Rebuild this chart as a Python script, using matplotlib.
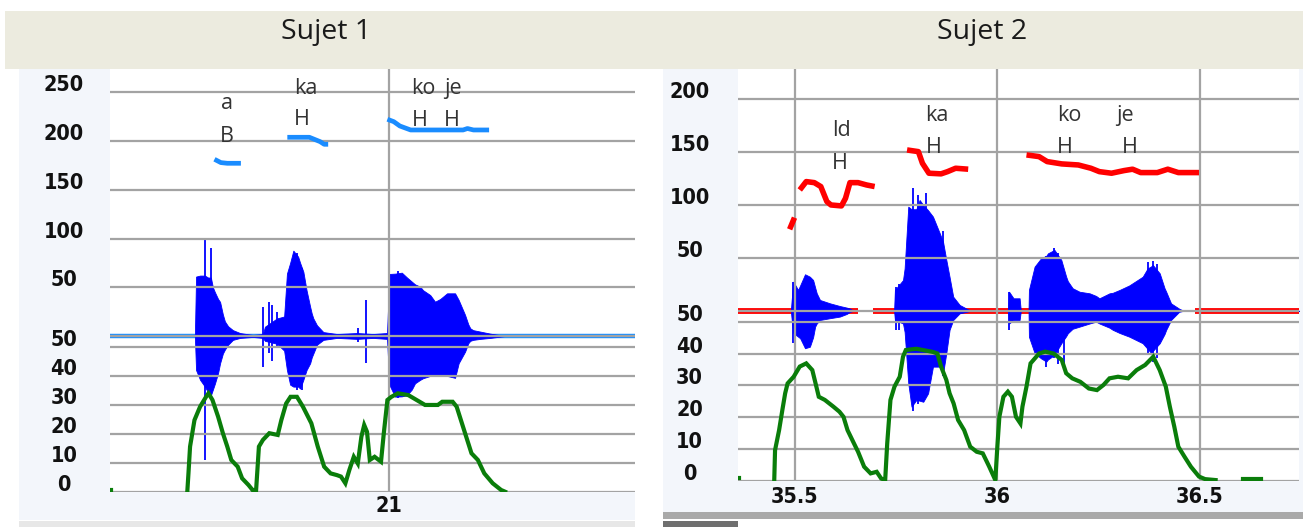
import matplotlib
matplotlib.use("Agg")
import matplotlib.pyplot as plt
from matplotlib.patches import Rectangle
from matplotlib import transforms as mtrans

# ---------------- DATA ----------------
# Sujet 1
S1_PITCH_TICKS = [250, 200, 150, 100, 50]
S1_INT_TICKS = [50, 40, 30, 20, 10, 0]
S1_XTICKS = [21]
S1_XTICK_LABELS = ["21"]

S1_WAVE_T = [20.303, 20.515, 20.518, 20.528, 20.540, 20.548, 20.555, 20.560, 20.565, 20.573,
             20.578, 20.585, 20.590, 20.598, 20.610, 20.628, 20.660, 20.685, 20.690, 20.720,
             20.738, 20.745, 20.753, 20.761, 20.773, 20.778, 20.786, 20.794, 20.803, 20.807,
             20.811, 20.820, 20.836, 20.870, 20.920, 20.960, 20.995, 21.001, 21.015, 21.032,
             21.045, 21.057, 21.065, 21.078, 21.085, 21.103, 21.115, 21.128, 21.145, 21.165,
             21.174, 21.190, 21.198, 21.203, 21.210, 21.228, 21.253, 21.290]
S1_WAVE_TOP = [0, 0, 61, 62, 62, 60, 60, 50, 45, 38,
               35, 22, 15, 10, 6, 3, 1, 2, 9.5, 18,
               20, 64, 75, 87.6, 81.4, 75, 66, 47, 30, 23,
               18, 11, 4, 2, 3, 2, 3, 63.7, 64, 65,
               60, 55.8, 53, 50.6, 47, 42, 35.2, 38, 43.8, 43.8,
               37, 21.6, 12, 7.9, 6, 4.5, 2.4, 0]
S1_WAVE_BOT = [0, 0, -35, -45, -52, -58, -61, -55, -49, -38,
               -28, -18, -14, -9, -4, -2, -1, -2, -5, -8,
               -15, -35, -50, -52, -52, -54, -45, -35, -28, -22,
               -18, -9, -4, -2, -3, -2, -3, -50.3, -62.3, -62,
               -60.6, -55, -48.6, -45, -43.4, -41, -40, -40, -41, -43,
               -28, -16.1, -7.5, -5, -4, -3, -2, 0]
S1_SPIKE_T = [20.540, 20.555, 20.686, 20.699, 20.707, 20.720, 20.770, 20.783, 20.923, 20.943, 21.022]
S1_SPIKE_TOP = [99, 90, 29.5, 35, 32, 25, 85, 70, 8, 37, 67]
S1_SPIKE_BOT = [-127, -20, -31.5, -17.5, -26, -10, -55, -55, -6, -27.4, -64]

S1_F0_A_T = [20.564, 20.580, 20.596, 20.630]
S1_F0_A_HZ = [181.4, 178.0, 177.3, 177.3]
S1_F0_KA_T = [20.746, 20.801, 20.828, 20.838, 20.848]
S1_F0_KA_HZ = [204.0, 204.0, 199.5, 196.8, 196.8]
S1_F0_KOJE_T = [20.996, 21.012, 21.027, 21.054, 21.185, 21.196, 21.211, 21.250]
S1_F0_KOJE_HZ = [222.5, 220.0, 215.6, 211.5, 211.5, 213.0, 211.5, 211.5]

S1_INT_T = [20.496, 20.499, 20.503, 20.514, 20.528, 20.543, 20.549, 20.559, 20.573, 20.585,
            20.596, 20.606, 20.622, 20.633, 20.649, 20.659, 20.668, 20.675, 20.685, 20.701,
            20.722, 20.731, 20.743, 20.754, 20.770, 20.785, 20.806, 20.822, 20.838, 20.854,
            20.870, 20.880, 20.891, 20.901, 20.912, 20.922, 20.931, 20.938, 20.945, 20.952,
            20.964, 20.980, 20.987, 20.996, 21.006, 21.022, 21.048, 21.069, 21.090, 21.122,
            21.133, 21.159, 21.169, 21.190, 21.206, 21.222, 21.238, 21.259, 21.280, 21.290]
S1_INT_DB = [0, 6.5, 15.7, 24.8, 29.4, 32.8, 34.0, 31.7, 26.0, 20.3,
             15.7, 11.1, 8.8, 4.8, 2.5, 0.8, 0.8, 15.7, 18.0, 20.3,
             19.7, 24.8, 30.5, 32.8, 32.8, 29.4, 23.7, 15.7, 8.8, 6.5,
             5.9, 5.4, 3.1, 7.7, 12.2, 9.9, 19.1, 23.1, 20.8, 11.1,
             12.2, 10.5, 20.3, 31.7, 32.8, 34.0, 33.4, 31.7, 30.0, 30.0,
             31.1, 31.1, 29.4, 20.3, 13.4, 11.1, 6.5, 3.1, 0.8, 0.2]
S1_INT_DOT_T = [20.303, 20.305]
S1_INT_DOT_DB = [0.8, 0.8]

S1_SYL = ["a", "ka", "ko", "je"]
S1_SYL_T = [20.596, 20.793, 21.086, 21.159]
S1_SYL_HZ = [238.2, 254.3, 254.3, 254.3]
S1_TONE = ["B", "H", "H", "H"]
S1_TONE_T = [20.596, 20.783, 21.077, 21.156]
S1_TONE_HZ = [205.3, 221.8, 221.0, 221.0]

# Sujet 2
S2_PITCH_TICKS = [200, 150, 100, 50]
S2_INT_TICKS = [50, 40, 30, 20, 10, 0]
S2_XTICKS = [35.5, 36.0, 36.5]
S2_XTICK_LABELS = ["35.5", "36", "36.5"]

S2_WAVE_T = [35.359, 35.490, 35.492, 35.496, 35.508, 35.513, 35.525, 35.537, 35.545, 35.550,
             35.554, 35.562, 35.587, 35.611, 35.628, 35.636, 35.645, 35.745, 35.747, 35.767,
             35.771, 35.780, 35.788, 35.800, 35.808, 35.817, 35.829, 35.841, 35.858, 35.866,
             35.874, 35.882, 35.891, 35.907, 35.924, 35.935, 36.027, 36.029, 36.040, 36.055,
             36.058, 36.077, 36.078, 36.092, 36.108, 36.121, 36.125, 36.141, 36.158, 36.170,
             36.174, 36.186, 36.203, 36.228, 36.244, 36.252, 36.277, 36.285, 36.302, 36.326,
             36.334, 36.359, 36.371, 36.380, 36.384, 36.401, 36.413, 36.417, 36.429, 36.449,
             36.460, 36.745]
S2_WAVE_TOP = [0, 0, 10, 27.5, 19.7, 24, 34.5, 32.2, 29.1, 22,
               16.5, 10.2, 7, 4.5, 3, 2.1, 0, 0, 19.7, 29,
               40, 98.4, 96, 96, 104.7, 100, 95, 89, 73, 65,
               48, 32, 13.3, 5.5, 2, 0, 0, 18, 11.8, 11.8,
               0, 0, 19.7, 41.7, 49.6, 52, 54.3, 57.5, 48, 32.2,
               28, 21.3, 18, 16.5, 14, 11.8, 16.5, 17, 19.7, 24,
               26, 32.2, 40, 42, 43.3, 35.4, 21.3, 18, 7, 2,
               0, 0]
S2_WAVE_BOT = [0, 0, -8, -21, -24.5, -26, -35.4, -34, -25, -15,
               -12, -8.7, -7, -5.5, -3, -1, 0, 0, -8.7, -12,
               -20, -68.5, -90.6, -84.3, -85, -86, -78, -52.8, -52.8, -59,
               -40, -18, -8.7, -2.4, -1, 0, 0, -12, -8.7, -8.7,
               0, 0, -24.5, -40, -45, -48, -46, -41.8, -30.7, -24,
               -21.3, -17, -15, -12, -10.3, -12, -16, -18, -21, -24.5,
               -26, -30.7, -36, -40, -38, -30.7, -22, -18, -8.7, -1,
               0, 0]
S2_SPIKE_T = [35.496, 35.750, 35.757, 35.792, 35.804, 35.825, 35.866, 36.029, 36.121, 36.141,
              36.150, 36.165, 36.371, 36.384, 36.395]
S2_SPIKE_TOP = [27.5, 22, 25, 115.8, 109, 111, 75, 18, 52, 59, 55, 36, 46, 47, 44]
S2_SPIKE_BOT = [-30, -18, -18, -95, -88, -80, -62, -18, -53, -45, -50, -53, -40, -48, -45]
S2_BASE_START = [35.359, 35.692, 36.488]
S2_BASE_END = [35.656, 36.447, 36.745]

S2_F0_0_T = [35.487, 35.499]
S2_F0_0_HZ = [77.0, 88.0]
S2_F0_LD_T = [35.512, 35.528, 35.548, 35.564, 35.579, 35.589, 35.615, 35.625, 35.636, 35.656, 35.677, 35.697]
S2_F0_LD_HZ = [114.2, 122.1, 121.1, 117.4, 103.2, 100.0, 99.1, 106.3, 121.1, 121.1, 118.9, 117.4]
S2_F0_KA_T = [35.777, 35.805, 35.815, 35.831, 35.861, 35.877, 35.897, 35.928]
S2_F0_KA_HZ = [152.0, 150.4, 139.4, 130.0, 129.4, 131.5, 134.7, 133.8]
S2_F0_KOJE_T = [36.072, 36.103, 36.123, 36.159, 36.200, 36.231, 36.252, 36.282, 36.313, 36.334,
                36.354, 36.395, 36.421, 36.447, 36.498]
S2_F0_KOJE_HZ = [147.3, 145.7, 141.0, 138.8, 137.8, 134.7, 131.5, 130.0, 132.5, 133.8,
                 130.6, 130.6, 133.8, 130.6, 130.6]

S2_INT_T = [35.449, 35.451, 35.461, 35.469, 35.476, 35.482, 35.497, 35.512, 35.528, 35.543,
            35.553, 35.559, 35.574, 35.595, 35.610, 35.620, 35.630, 35.646, 35.656, 35.671,
            35.687, 35.702, 35.713, 35.723, 35.728, 35.736, 35.746, 35.759, 35.767, 35.774,
            35.800, 35.841, 35.852, 35.861, 35.874, 35.882, 35.892, 35.903, 35.918, 35.933,
            35.949, 35.964, 35.980, 35.995, 36.000, 36.005, 36.015, 36.026, 36.036, 36.046,
            36.057, 36.062, 36.072, 36.082, 36.103, 36.118, 36.139, 36.159, 36.170, 36.185,
            36.205, 36.226, 36.246, 36.262, 36.277, 36.298, 36.323, 36.344, 36.365, 36.385,
            36.401, 36.416, 36.426, 36.437, 36.447, 36.462, 36.478, 36.498, 36.513, 36.539]
S2_INT_DB = [0, 9.6, 15.9, 22.2, 27.5, 30.6, 32.7, 35.9, 36.9, 34.8,
             29.6, 26.4, 25.4, 23.3, 21.7, 20.1, 15.9, 11.7, 9.1, 4.4,
             2.3, 2.8, 0.7, 0.2, 11.7, 25.4, 29.6, 32.7, 39.0, 41.1,
             41.5, 40.5, 40.0, 35.9, 31.7, 27.5, 24.3, 19.1, 15.9, 10.7,
             9.1, 8.6, 4.4, 0.2, 10.7, 20.1, 26.4, 28.0, 26.4, 20.1,
             18.0, 23.3, 29.6, 36.9, 40.0, 40.6, 40.0, 38.0, 33.8, 32.2,
             31.1, 29.0, 28.5, 30.1, 32.2, 32.7, 32.2, 34.8, 36.4, 39.0,
             34.8, 29.6, 23.3, 17.0, 10.7, 7.6, 4.4, 1.3, 0.5, 0.2]
S2_INT_DOT_T = [36.606, 36.652]
S2_INT_DOT_DB = [0.5, 0.5]
S2_INT_DOT2_T = [35.359, 35.361]
S2_INT_DOT2_DB = [0.7, 0.7]

S2_SYL = ["ld", "ka", "ko", "je"]
S2_SYL_T = [35.615, 35.851, 36.177, 36.316]
S2_SYL_HZ = [170.0, 184.5, 184.5, 184.5]
S2_TONE = ["H", "H", "H", "H"]
S2_TONE_T = [35.612, 35.844, 36.166, 36.327]
S2_TONE_HZ = [138.8, 154.2, 154.2, 154.2]

# ---------------- LAYOUT ----------------
W, H = 1303, 527
fig = plt.figure(figsize=(W / 100, H / 100), dpi=100)
fig.patch.set_facecolor("white")

GRID = "#a3a3a3"
WAVE = "#0000ff"
GREEN = "#0a7d0a"
TICKFONT = dict(family="DejaVu Sans", fontweight="bold", fontstretch="condensed",
                fontsize=15.5, color="#111111")
SYLFONT = dict(family=["Open Sans", "DejaVu Sans"], fontsize=15.5, color="#333333")


def frac(x0, y0, x1, y1):
    return [x0 / W, 1 - y1 / H, (x1 - x0) / W, (y1 - y0) / H]


def bg(x0, y0, x1, y1, color):
    l, b, w, h = frac(x0, y0, x1, y1)
    fig.add_artist(Rectangle((l, b), w, h, transform=fig.transFigure,
                             facecolor=color, edgecolor="none", zorder=-5))


bg(5, 11, 1303, 69, "#ecebdf")
bg(19, 69, 635, 520, "#f3f6fb")
bg(19, 521, 635, 527, "#e7e7e7")
bg(663, 69, 1303, 512, "#f3f6fb")
bg(663, 512, 1303, 519, "#a9a9a9")
bg(663, 521, 738, 527, "#6f6f6f")

fig.text(326 / W, 1 - 32 / H, "Sujet 1", ha="center", va="center",
         family=["Open Sans", "DejaVu Sans"], fontsize=20.5, color="#1a1a1a")
fig.text(982 / W, 1 - 32 / H, "Sujet 2", ha="center", va="center",
         family=["Open Sans", "DejaVu Sans"], fontsize=20.5, color="#1a1a1a")


def panel(rect_px, xlim, plim, ilim, pticks, iticks, xticks, xlabels, label_x_px, xlabel_y_px,
          wave_t, wave_top, wave_bot, spk_t, spk_top, spk_bot, base_fn,
          f0_segments, f0_color, f0_lw, int_segments, syl, syl_t, syl_hz, tone, tone_t, tone_hz):
    r = frac(*rect_px)
    ax_w = fig.add_axes(r)
    ax_w.set_facecolor("white")
    ax_w.set_xlim(*xlim)
    ax_w.set_ylim(*plim)
    ax_w.set_xticks([])
    ax_w.set_yticks([])
    for s in ax_w.spines.values():
        s.set_visible(False)

    ax_i = fig.add_axes(r, sharex=ax_w)
    ax_i.set_ylim(*ilim)
    ax_i.set_axis_off()
    ax_c = fig.add_axes(r, sharex=ax_w)
    ax_c.set_ylim(*plim)
    ax_c.set_axis_off()

    # baseline + waveform
    base_fn(ax_w)
    ax_w.fill_between(wave_t, wave_bot, wave_top, color=WAVE, lw=0.6, zorder=2)
    ax_w.vlines(spk_t, spk_bot, spk_top, color=WAVE, lw=1.3, zorder=2)
    for v in pticks + [0]:
        ax_w.axhline(v, color=GRID, lw=1.6, zorder=3)

    for v in iticks:
        ax_i.axhline(v, color=GRID, lw=1.6, zorder=1)
    for v in xticks:
        ax_i.axvline(v, color=GRID, lw=1.6, zorder=1)
    for (tt, dd) in int_segments:
        ax_i.plot(tt, dd, color=GREEN, lw=3.0, zorder=3, solid_joinstyle="miter")

    for (tt, hh) in f0_segments:
        ax_c.plot(tt, hh, color=f0_color, lw=f0_lw, zorder=3, solid_capstyle="butt")
    for s, t, h in zip(syl, syl_t, syl_hz):
        ax_c.text(t, h, s, ha="center", va="center", zorder=5, **SYLFONT)
    for s, t, h in zip(tone, tone_t, tone_hz):
        ax_c.text(t, h, s, ha="center", va="center", zorder=5, **SYLFONT)

    # y labels
    up = mtrans.ScaledTranslation(0, 7 / 100, fig.dpi_scale_trans)
    tp = mtrans.blended_transform_factory(fig.transFigure, ax_w.transData) + up
    ti = mtrans.blended_transform_factory(fig.transFigure, ax_i.transData) + up
    for v in pticks:
        fig.text(label_x_px / W, v, str(v), transform=tp, ha="center", va="center", **TICKFONT)
    for v in iticks:
        fig.text(label_x_px / W, v, str(v), transform=ti, ha="center", va="center", **TICKFONT)

    tx = mtrans.blended_transform_factory(ax_w.transData, fig.transFigure)
    for v, lab in zip(xticks, xlabels):
        fig.text(v, 1 - xlabel_y_px / H, lab, transform=tx, ha="center", va="center", **TICKFONT)
    return ax_w


def base1(ax):
    ax.axhline(0, color="#1e90ff", lw=3.2, zorder=1)


def base2(ax):
    ax.hlines([0] * len(S2_BASE_START), S2_BASE_START, S2_BASE_END, color="#ff0000", lw=4.2, zorder=1)


panel((110, 69, 635, 492.3), (20.303, 21.6145), (-160.5, 274.1), (0, 145.4),
      S1_PITCH_TICKS, S1_INT_TICKS, S1_XTICKS, S1_XTICK_LABELS, 64, 506,
      S1_WAVE_T, S1_WAVE_TOP, S1_WAVE_BOT, S1_SPIKE_T, S1_SPIKE_TOP, S1_SPIKE_BOT, base1,
      [(S1_F0_A_T, S1_F0_A_HZ), (S1_F0_KA_T, S1_F0_KA_HZ), (S1_F0_KOJE_T, S1_F0_KOJE_HZ)],
      "#1a8cff", 3.4,
      [(S1_INT_T, S1_INT_DB), (S1_INT_DOT_T, S1_INT_DOT_DB)],
      S1_SYL, S1_SYL_T, S1_SYL_HZ, S1_TONE, S1_TONE_T, S1_TONE_HZ)

panel((738, 69, 1299, 480.7), (35.3595, 36.745), (-160.6, 228.5), (0, 129.5),
      S2_PITCH_TICKS, S2_INT_TICKS, S2_XTICKS, S2_XTICK_LABELS, 689.5, 496.7,
      S2_WAVE_T, S2_WAVE_TOP, S2_WAVE_BOT, S2_SPIKE_T, S2_SPIKE_TOP, S2_SPIKE_BOT, base2,
      [(S2_F0_0_T, S2_F0_0_HZ), (S2_F0_LD_T, S2_F0_LD_HZ), (S2_F0_KA_T, S2_F0_KA_HZ),
       (S2_F0_KOJE_T, S2_F0_KOJE_HZ)],
      "#ff0000", 4.0,
      [(S2_INT_T, S2_INT_DB), (S2_INT_DOT_T, S2_INT_DOT_DB), (S2_INT_DOT2_T, S2_INT_DOT2_DB)],
      S2_SYL, S2_SYL_T, S2_SYL_HZ, S2_TONE, S2_TONE_T, S2_TONE_HZ)

fig.savefig("out.png", dpi=100, facecolor="white")
